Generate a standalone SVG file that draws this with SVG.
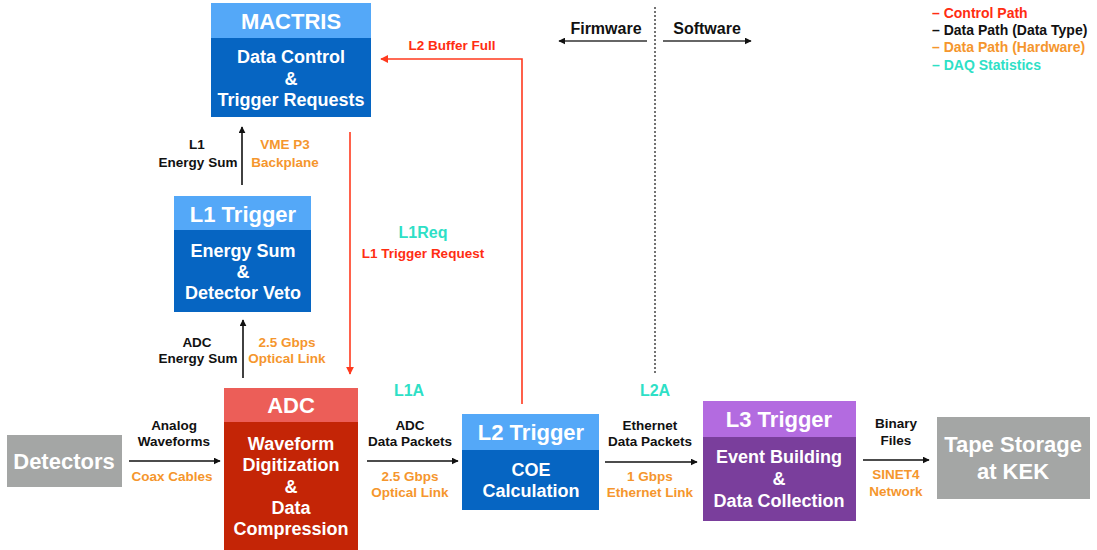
<svg xmlns="http://www.w3.org/2000/svg" width="1097" height="550" viewBox="0 0 1097 550">
  <style>
    text { font-family: "Liberation Sans", Arial, Helvetica, sans-serif; font-weight: bold; text-anchor: middle; }
    .head { fill: #ffffff; font-size: 22px; }
    .body { fill: #ffffff; font-size: 18px; }
    .lbl { fill: #111111; font-size: 13.5px; }
    .hw { fill: #F5962D; font-size: 13.5px; }
    .ctl { fill: #FF2D12; font-size: 13.5px; }
    .stat { fill: #2EE0C6; font-size: 16px; }
    .legend { font-size: 14px; text-anchor: start; }
    .side-lbl { fill: #111111; font-size: 16px; }
    .blue-h { fill: #54A8F8; }
    .blue-b { fill: #0665C2; }
    .data { stroke: #111111; stroke-width: 1.6; fill: none; marker-end: url(#arrow-black); }
    .ctrl { stroke: #FF3A1E; stroke-width: 1.6; fill: none; marker-end: url(#arrow-red); }
    .side { stroke: #666666; stroke-width: 2; fill: none; marker-end: url(#arrow-black); }
  </style>
  <defs>
    <marker id="arrow-black" viewBox="0 0 10 10" refX="9" refY="5" markerWidth="7" markerHeight="7" orient="auto" markerUnits="userSpaceOnUse">
      <path d="M0,0 L10,5 L0,10 z" fill="#111111"/>
    </marker>
    <marker id="arrow-red" viewBox="0 0 10 10" refX="9" refY="5" markerWidth="8" markerHeight="8" orient="auto" markerUnits="userSpaceOnUse">
      <path d="M0,0 L10,5 L0,10 z" fill="#FF3A1E"/>
    </marker>
  </defs>

  <rect width="1097" height="550" fill="#ffffff"/>

  <!-- legend -->
  <g id="legend">
    <text class="legend" x="932" y="18" fill="#FF2D12">– Control Path</text>
    <text class="legend" x="932" y="35" fill="#111111">– Data Path (Data Type)</text>
    <text class="legend" x="932" y="52" fill="#F5962D">– Data Path (Hardware)</text>
    <text class="legend" x="932" y="70" fill="#2EE0C6">– DAQ Statistics</text>
  </g>

  <!-- firmware / software split -->
  <g id="domain-split">
    <line x1="655" y1="7" x2="655" y2="373" stroke="#444444" stroke-width="1.5" stroke-dasharray="2 2"/>
    <line class="side" x1="647" y1="41" x2="559" y2="41"/>
    <line class="side" x1="663" y1="41" x2="751" y2="41"/>
    <text class="side-lbl" x="606" y="34">Firmware</text>
    <text class="side-lbl" x="707" y="34">Software</text>
  </g>

  <!-- MACTRIS -->
  <g id="mactris">
    <rect class="blue-h" x="211" y="3" width="160" height="35"/>
    <rect class="blue-b" x="211" y="38" width="160" height="79"/>
    <text class="head" x="291" y="29">MACTRIS</text>
    <text class="body" x="291" y="63">Data Control</text>
    <text class="body" x="291" y="85">&amp;</text>
    <text class="body" x="291" y="106">Trigger Requests</text>
  </g>

  <!-- L1 Trigger -->
  <g id="l1-trigger">
    <rect class="blue-h" x="174" y="196" width="137" height="34"/>
    <rect class="blue-b" x="174" y="230" width="137" height="82"/>
    <text class="head" x="243" y="222">L1 Trigger</text>
    <text class="body" x="243" y="257">Energy Sum</text>
    <text class="body" x="243" y="278">&amp;</text>
    <text class="body" x="243" y="299">Detector Veto</text>
  </g>

  <!-- Detectors -->
  <g id="detectors">
    <rect x="7" y="435" width="115" height="52" fill="#A4A6A5"/>
    <text class="head" x="64" y="469">Detectors</text>
  </g>

  <!-- ADC -->
  <g id="adc">
    <rect x="224" y="388" width="134" height="34" fill="#EC5E58"/>
    <rect x="224" y="422" width="134" height="128" fill="#C42506"/>
    <text class="head" x="291" y="413">ADC</text>
    <text class="body" x="291" y="450">Waveform</text>
    <text class="body" x="291" y="471">Digitization</text>
    <text class="body" x="291" y="493">&amp;</text>
    <text class="body" x="291" y="514">Data</text>
    <text class="body" x="291" y="535">Compression</text>
  </g>

  <!-- L2 Trigger -->
  <g id="l2-trigger">
    <rect class="blue-h" x="462" y="414" width="137" height="36"/>
    <rect class="blue-b" x="462" y="450" width="137" height="60"/>
    <text class="head" x="531" y="440">L2 Trigger</text>
    <text class="body" x="531" y="476">COE</text>
    <text class="body" x="531" y="497">Calculation</text>
  </g>

  <!-- L3 Trigger -->
  <g id="l3-trigger">
    <rect x="703" y="401" width="153" height="36" fill="#B36BE0"/>
    <rect x="703" y="437" width="153" height="84" fill="#7A3E9C"/>
    <text class="head" x="779" y="427">L3 Trigger</text>
    <text class="body" x="779" y="463">Event Building</text>
    <text class="body" x="779" y="485">&amp;</text>
    <text class="body" x="779" y="507">Data Collection</text>
  </g>

  <!-- Tape storage -->
  <g id="tape-storage">
    <rect x="937" y="417" width="153" height="82" fill="#A4A6A5"/>
    <text class="head" x="1013" y="452">Tape Storage</text>
    <text class="head" x="1013" y="479">at KEK</text>
  </g>

  <!-- connectors -->
  <g id="connectors">
    <line class="data" x1="129" y1="461" x2="220" y2="461"/>
    <line class="data" x1="367" y1="461" x2="458" y2="461"/>
    <line class="data" x1="605" y1="462" x2="697" y2="462"/>
    <line class="data" x1="863" y1="460" x2="929" y2="460"/>
    <line class="data" x1="243" y1="378" x2="243" y2="320"/>
    <line class="data" x1="242" y1="185" x2="242" y2="127"/>
    <line class="ctrl" x1="350" y1="132" x2="350" y2="374"/>
    <polyline class="ctrl" points="522,404 522,59 381,59"/>
  </g>

  <!-- connector labels -->
  <g id="labels">
    <text class="lbl" x="197" y="149">L1</text>
    <text class="lbl" x="198" y="167">Energy Sum</text>
    <text class="hw" x="285" y="149">VME P3</text>
    <text class="hw" x="285" y="167">Backplane</text>

    <text class="lbl" x="197" y="347">ADC</text>
    <text class="lbl" x="198" y="363">Energy Sum</text>
    <text class="hw" x="287" y="347">2.5 Gbps</text>
    <text class="hw" x="287" y="363">Optical Link</text>

    <text class="ctl" x="452" y="50">L2 Buffer Full</text>
    <text class="stat" x="423" y="238">L1Req</text>
    <text class="ctl" x="423" y="258">L1 Trigger Request</text>
    <text class="stat" x="409" y="396">L1A</text>
    <text class="stat" x="655" y="396">L2A</text>

    <text class="lbl" x="174" y="430">Analog</text>
    <text class="lbl" x="174" y="446">Waveforms</text>
    <text class="hw" x="172" y="481">Coax Cables</text>

    <text class="lbl" x="410" y="430">ADC</text>
    <text class="lbl" x="410" y="446">Data Packets</text>
    <text class="hw" x="410" y="481">2.5 Gbps</text>
    <text class="hw" x="410" y="497">Optical Link</text>

    <text class="lbl" x="650" y="430">Ethernet</text>
    <text class="lbl" x="650" y="446">Data Packets</text>
    <text class="hw" x="650" y="481">1 Gbps</text>
    <text class="hw" x="650" y="497">Ethernet Link</text>

    <text class="lbl" x="896" y="428">Binary</text>
    <text class="lbl" x="896" y="445">Files</text>
    <text class="hw" x="896" y="479">SINET4</text>
    <text class="hw" x="896" y="496">Network</text>
  </g>
</svg>
